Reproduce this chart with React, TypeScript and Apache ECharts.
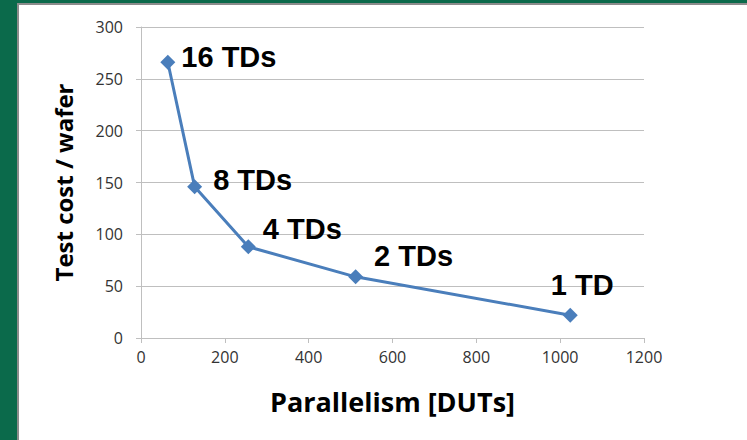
import React, { useEffect, useRef } from "react";
import * as echarts from "echarts";

const parallelism = [64, 128, 256, 512, 1024];
const testCost = [266, 146, 88, 59, 22];
const pointLabels = ["16 TDs", "8 TDs", "4 TDs", "2 TDs", "1 TD"];
const xTicks = [0, 200, 400, 600, 800, 1000, 1200];
const yTicks = [0, 50, 100, 150, 200, 250, 300];

const labelPlacement: any[] = [
  { position: "right", distance: 6, offset: [0, -5] },
  { position: "right", distance: 11, offset: [0, -7] },
  { position: "right", distance: 7, offset: [0, -18] },
  { position: "right", distance: 11, offset: [0, -21] },
  { position: "top", distance: 8, offset: [12, 0] },
];

export default function App() {
  const ref = useRef<HTMLDivElement>(null);
  useEffect(() => {
    const chart = echarts.init(ref.current!, undefined, { renderer: "svg" });
    const data = parallelism.map((x, i) => ({
      value: [x, testCost[i]],
      label: {
        show: true,
        formatter: pointLabels[i],
        ...labelPlacement[i],
      },
    }));
    chart.setOption({
      animation: false,
      backgroundColor: "#0b6a4b",
      graphic: [
        { type: "rect", shape: { x: 17, y: 3, width: 730, height: 437 }, style: { fill: "#8c8c8c" }, z: -10 },
        { type: "rect", shape: { x: 19, y: 5, width: 728, height: 435 }, style: { fill: "#ffffff" }, z: -9 },
      ],
      grid: { left: 141, right: 103, top: 27, bottom: 102, containLabel: false },
      xAxis: {
        type: "value",
        min: xTicks[0],
        max: xTicks[xTicks.length - 1],
        interval: 200,
        name: "Parallelism [DUTs]",
        nameLocation: "middle",
        nameGap: 50,
        nameTextStyle: { fontFamily: "Open Sans", fontWeight: "bold", fontSize: 27, color: "#000" },
        axisLine: { show: true, lineStyle: { color: "#bfbfbf", width: 1 } },
        axisTick: { show: true, length: 5, lineStyle: { color: "#bfbfbf" } },
        axisLabel: { fontFamily: "Open Sans", fontSize: 16, color: "#333", margin: 11, formatter: (v: number) => String(v) },
        splitLine: { show: false },
      },
      yAxis: {
        type: "value",
        min: yTicks[0],
        max: yTicks[yTicks.length - 1],
        interval: 50,
        name: "Test cost / wafer",
        nameLocation: "middle",
        nameGap: 66,
        nameTextStyle: { fontFamily: "Open Sans", fontWeight: "bold", fontSize: 24, color: "#000" },
        axisLine: { show: true, lineStyle: { color: "#bfbfbf", width: 1 } },
        axisTick: { show: true, length: 5, lineStyle: { color: "#bfbfbf" } },
        axisLabel: { fontFamily: "Open Sans", fontSize: 16, color: "#333", margin: 18 },
        splitLine: { show: true, lineStyle: { color: "#bfbfbf", width: 1 } },
      },
      series: [
        {
          type: "line",
          data,
          symbol: "diamond",
          symbolSize: 15,
          lineStyle: { color: "#4a7ebb", width: 3 },
          itemStyle: { color: "#4a7ebb" },
          label: {
            fontFamily: "Liberation Sans, Arial",
            fontWeight: "bold",
            fontSize: 29,
            color: "#000",
          },
        },
      ],
    });
    return () => chart.dispose();
  }, []);
  return <div ref={ref} style={{ position: "fixed", left: 0, top: 0, width: 747, height: 440 }} />;
}
